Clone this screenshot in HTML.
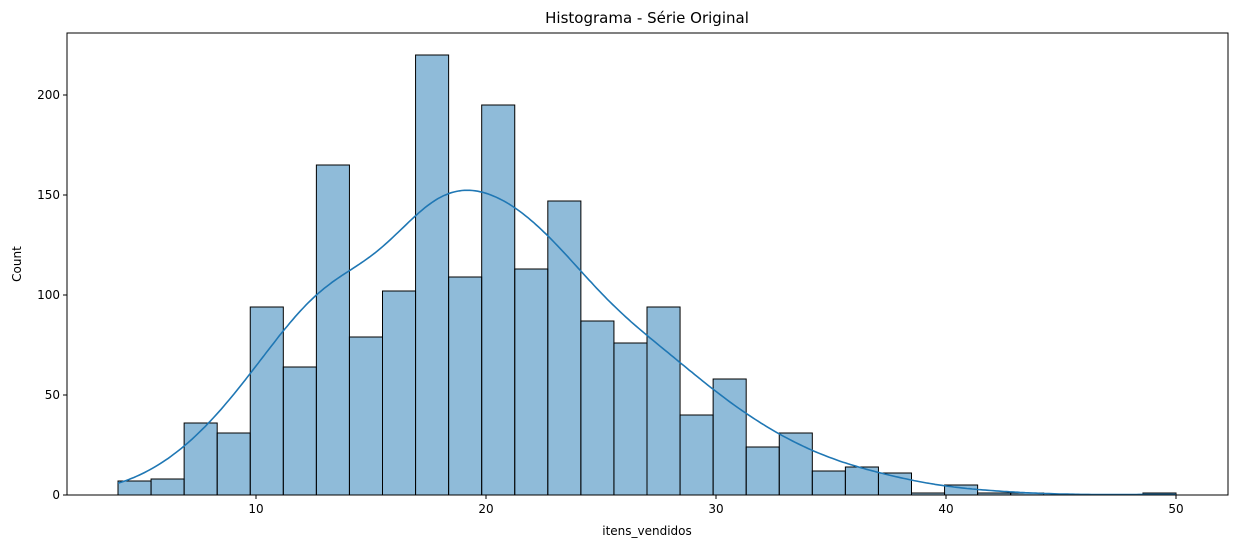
<!DOCTYPE html>
<html><head><meta charset="utf-8"><style>
body{margin:0;background:#fff;font-family:"Liberation Sans","DejaVu Sans",sans-serif}
</style></head><body>
<svg id="c" width="1238" height="548" font-family="DejaVu Sans, Liberation Sans, sans-serif">
<text x="647" y="23" font-size="15" text-anchor="middle">Histograma - Série Original</text>
<text x="647" y="535" font-size="12" text-anchor="middle">itens_vendidos</text>
<text x="21" y="264" font-size="12" text-anchor="middle" transform="rotate(-90 21 264)">Count</text>
</svg>
<script>
const counts=[7,8,36,31,94,64,165,79,102,220,109,195,113,147,87,76,94,40,58,24,31,12,14,11,1,5,1,1,0,0,0,1];
const xTicks=[10,20,30,40,50];
const yTicks=[0,50,100,150,200];
const xMin=4,xMax=50;
const NS="http://www.w3.org/2000/svg";
const svg=document.getElementById('c');
const L=67,R=1228,T=33,B=495;
const X=v=>256+(v-10)*23;
const Y=v=>B-v*2;
function el(t,a){const e=document.createElementNS(NS,t);for(const k in a)e.setAttribute(k,a[k]);svg.appendChild(e);return e;}
const bw=(xMax-xMin)/counts.length;
counts.forEach((c,i)=>{const x0=X(xMin+i*bw),x1=X(xMin+(i+1)*bw);
const r=el('rect',{x:x0,y:Y(c),width:x1-x0,height:c*2,fill:'rgba(31,119,180,0.5)',stroke:'#000','stroke-width':1});

});
let n=0,m=0;counts.forEach((c,i)=>{n+=c;m+=c*(xMin+(i+.5)*bw);});m/=n;
let v=0;counts.forEach((c,i)=>{v+=c*Math.pow(xMin+(i+.5)*bw-m,2);});const sd=Math.sqrt(v/n);
const h=sd*Math.pow(n,-0.2)*1.35;
let d='';
for(let k=0;k<=400;k++){const x=xMin+(xMax-xMin)*k/400;let s=0;
counts.forEach((c,i)=>{const z=(x-(xMin+(i+.5)*bw))/h;s+=c*Math.exp(-z*z/2);});
const dens=s/(n*h*Math.sqrt(2*Math.PI));d+=(k?'L':'M')+X(x).toFixed(1)+','+Y(dens*n*bw).toFixed(1);}
const p=el('path',{d:d,fill:'none',stroke:'#1f77b4','stroke-width':1.6});


const f=el('rect',{x:L,y:T,width:R-L,height:B-T,fill:'none',stroke:'#000','stroke-width':1});


xTicks.forEach(t=>{el('line',{x1:X(t),x2:X(t),y1:B,y2:B+4,stroke:'#000'});
const tx=el('text',{x:X(t),y:B+18,'font-size':12,'text-anchor':'middle'});tx.textContent=t;

});
yTicks.forEach(t=>{el('line',{x1:L-4,x2:L,y1:Y(t),y2:Y(t),stroke:'#000'});
const tx=el('text',{x:L-7,y:Y(t)+4,'font-size':12,'text-anchor':'end'});tx.textContent=t;

});
</script>
</body></html>
